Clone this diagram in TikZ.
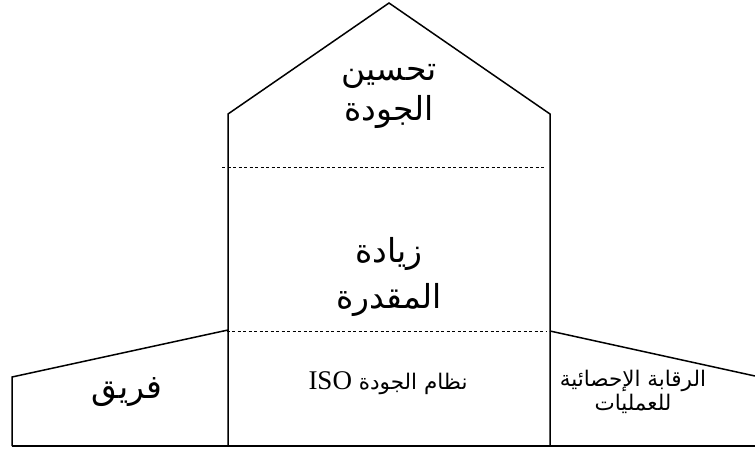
\documentclass[tikz,border=0pt]{standalone}
\usepackage{fontspec}
\newfontfamily\arabicfont[Script=Arabic]{DejaVu Sans}
\newfontfamily\latinserif{Liberation Serif}
\TeXXeTstate=1
\begin{document}
\begin{tikzpicture}[x=1pt,y=-1pt,
  wall/.style={line width=1.5pt, line join=miter},
  divider/.style={line width=0.75pt, dash pattern=on 3pt off 2.5pt},
  bigtext/.style={align=center, anchor=base, font=\arabicfont\fontsize{33}{40}\selectfont, inner sep=0pt},
  smalltext/.style={align=center, anchor=base, font=\arabicfont\fontsize{21.5}{24}\selectfont, inner sep=0pt}]
  \useasboundingbox (0,0) rectangle (755,451);
  % corner points of the house outline
  \coordinate (lb) at (228,446);
  \coordinate (le) at (228,114);
  \coordinate (apex) at (389,3);
  \coordinate (re) at (550,114);
  \coordinate (rb) at (550,446);
  % central house
  \draw[wall] (lb) -- (le) -- (apex) -- (re) -- (rb);
  % ground line
  \coordinate (gl) at (12,446);
  \coordinate (gr) at (755,446);
  \draw[wall] (gl) -- (gr);
  % left wing
  \coordinate (lwt) at (228,330);
  \coordinate (lwo) at (12,377);
  \draw[wall] (lwt) -- (lwo) -- (gl);
  % right wing
  \coordinate (rwt) at (550,331);
  \coordinate (rwo) at (755,376);
  \draw[wall] (rwt) -- (rwo);
  % floor dividers
  \coordinate (d1a) at (222,167);
  \coordinate (d1b) at (546,167);
  \coordinate (d2a) at (221,331);
  \coordinate (d2b) at (546,331);
  \draw[divider] (d1a) -- (d1b);
  \draw[divider] (d2a) -- (d2b);
  % labels (base anchor sits on the last line's baseline)
  \node[bigtext] (roof) at (389,120) {\beginR تحسين\endR\\\beginR الجودة\endR};
  \node[bigtext, font=\arabicfont\fontsize{33}{46}\selectfont] (middle) at (389,308) {\beginR زيادة\endR\\\beginR المقدرة\endR};
  \node[bigtext] (team) at (127,398) {\beginR فريق\endR};
  \node[smalltext] (iso) at (388,389) {\beginR نظام الجودة {\latinserif\fontsize{27}{30}\selectfont\beginL ISO\endL}\endR};
  \node[smalltext] (spc) at (633,410) {\beginR الرقابة الإحصائية\endR\\\beginR للعمليات\endR};
\end{tikzpicture}
\end{document}
